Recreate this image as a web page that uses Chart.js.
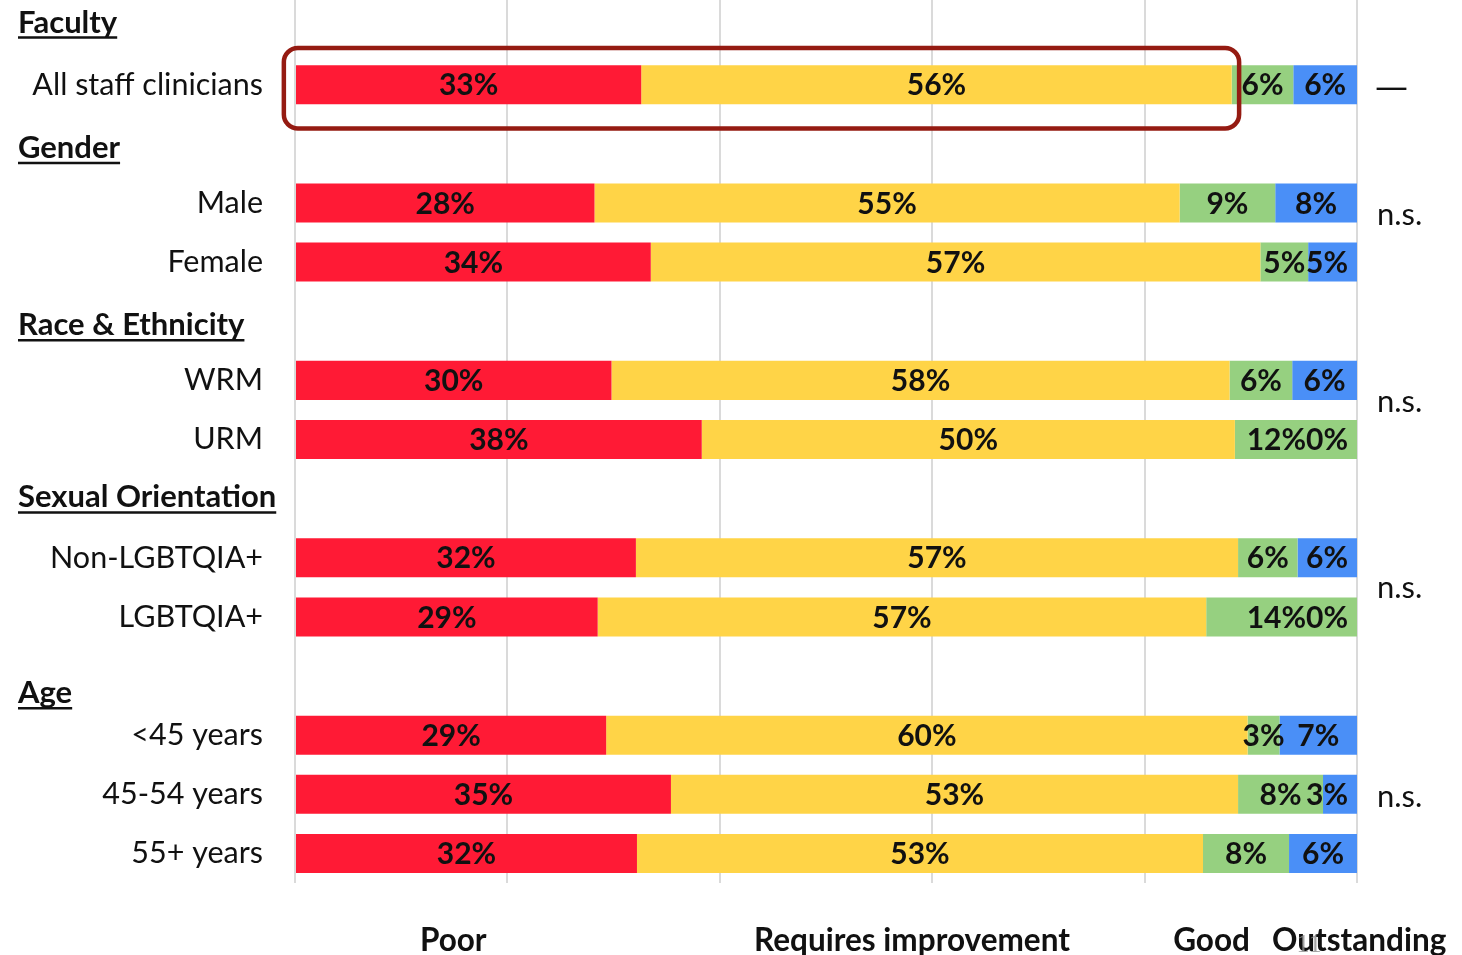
<!DOCTYPE html>
<html><head><meta charset="utf-8">
<script src="https://cdn.jsdelivr.net/npm/chart.js@4"></script>
<style>
html,body{margin:0;padding:0;background:#fff;overflow:hidden;width:1462px;height:955px;}
#wrap{position:absolute;left:0;top:-5px;width:1462px;height:960px;}
</style></head><body>
<div id="wrap"><canvas id="c"></canvas></div>
<script>
// ---- data ----
const categories = ['', 'All staff clinicians', '', 'Male', 'Female', '', 'WRM', 'URM', '', 'Non-LGBTQIA+', 'LGBTQIA+', '', '<45 years', '45-54 years', '55+ years'];
const groupHeaders = ['Faculty', 'Gender', 'Race & Ethnicity', 'Sexual Orientation', 'Age'];
const headerSlots = [0, 2, 5, 8, 11];
const seriesNames = ['Poor', 'Requires improvement', 'Good', 'Outstanding'];
const poor =                [null, 32.6, null, 28.2, 33.5, null, 29.8, 38.3, null, 32.1, 28.5, null, 29.3, 35.4, 32.2];
const requiresImprovement = [null, 55.6, null, 55.1, 57.4, null, 58.2, 50.2, null, 56.7, 57.3, null, 60.4, 53.4, 53.3];
const good =                [null, 5.8,  null, 9.0,  4.5,  null, 5.9,  11.5, null, 5.6,  14.2, null, 3.0,  8.0,  8.1];
const outstanding =         [null, 6.0,  null, 7.7,  4.6,  null, 6.1,  0,    null, 5.6,  0,    null, 7.3,  3.2,  6.4];
const significance = ['—', 'n.s.', 'n.s.', 'n.s.', 'n.s.'];
const slideNumber = '11';

// ---- styling / layout (not data) ----
const colors = ['#FF1A35', '#FFD447', '#96D080', '#4A8FF7'];
const FONT = 'Lato';
const headerNudge = [-0.05, 0.07, 0.07, -0.02, 0.29];
const sigSlots = [1.08, 3.21, 6.37, 9.51, 13.05];
const legendX = [14.9, 58.1, 86.3, 100.2];
const highlight = {row: 1, xFrom: -1.05, xTo: 88.9, yFrom: -0.62, yTo: 0.74};

const seriesData = [poor, requiresImprovement, good, outstanding];

const overlayPlugin = {
  id: 'overlay',
  afterDatasetsDraw(chart) {
    const ctx = chart.ctx;
    const ca = chart.chartArea;
    ctx.save();
    // segment labels
    ctx.font = 'bold 30px ' + FONT;
    ctx.fillStyle = '#111';
    ctx.textBaseline = 'middle';
    ctx.textAlign = 'left';
    for (let r = 0; r < categories.length; r++) {
      if (poor[r] === null) continue;
      const segs = chart.data.datasets.map((ds, i) => {
        const el = chart.getDatasetMeta(i).data[r];
        const x0 = Math.min(el.base, el.x), x1 = Math.max(el.base, el.x);
        const txt = Math.round(ds.data[r]) + '%';
        const w = ctx.measureText(txt).width;
        return {txt, w, cx: (x0 + x1) / 2, y: el.y};
      });
      let maxRight = ca.right - 9;
      for (let i = segs.length - 1; i >= 0; i--) {
        const s = segs[i];
        let left = s.cx - s.w / 2;
        if (left + s.w > maxRight) left = maxRight - s.w;
        s.left = left;
        maxRight = left;
      }
      segs.forEach(s => ctx.fillText(s.txt, s.left, s.y + 1));
    }
    ctx.restore();
  },
  afterDraw(chart) {
    const ctx = chart.ctx;
    const xs = chart.scales.x, ys = chart.scales.y;
    const ca = chart.chartArea;
    ctx.save();
    // group headers (bold, underlined)
    ctx.font = 'bold 31px ' + FONT;
    ctx.fillStyle = '#111';
    ctx.strokeStyle = '#111';
    ctx.textBaseline = 'middle';
    ctx.textAlign = 'left';
    groupHeaders.forEach((h, i) => {
      const y = ys.getPixelForValue(headerSlots[i] + headerNudge[i]);
      const x = 18;
      ctx.fillText(h, x, y);
      const w = ctx.measureText(h).width;
      ctx.lineWidth = 2.5;
      ctx.beginPath();
      ctx.moveTo(x, y + 15);
      ctx.lineTo(x + w, y + 15);
      ctx.stroke();
    });
    // significance notes
    significance.forEach((t, i) => {
      const y = ys.getPixelForValue(sigSlots[i]);
      if (t === '—') {
        ctx.font = '33px "DejaVu Sans"';
        ctx.fillText(t, ca.right + 18, y);
      } else {
        ctx.font = '31px ' + FONT;
        ctx.fillText(t, ca.right + 20, y);
      }
    });
    // highlight box
    const hx0 = xs.getPixelForValue(highlight.xFrom), hx1 = xs.getPixelForValue(highlight.xTo);
    const hy0 = ys.getPixelForValue(highlight.row + highlight.yFrom), hy1 = ys.getPixelForValue(highlight.row + highlight.yTo);
    ctx.strokeStyle = '#951B12';
    ctx.lineWidth = 4.5;
    const rad = 14;
    ctx.beginPath();
    ctx.moveTo(hx0 + rad, hy0);
    ctx.lineTo(hx1 - rad, hy0);
    ctx.arcTo(hx1, hy0, hx1, hy0 + rad, rad);
    ctx.lineTo(hx1, hy1 - rad);
    ctx.arcTo(hx1, hy1, hx1 - rad, hy1, rad);
    ctx.lineTo(hx0 + rad, hy1);
    ctx.arcTo(hx0, hy1, hx0, hy1 - rad, rad);
    ctx.lineTo(hx0, hy0 + rad);
    ctx.arcTo(hx0, hy0, hx0 + rad, hy0, rad);
    ctx.closePath();
    ctx.stroke();
    // category legend (text only)
    ctx.font = 'bold 31.5px ' + FONT;
    ctx.fillStyle = '#111';
    ctx.textAlign = 'center';
    const ly = ca.bottom + 58;
    chart.data.datasets.forEach((ds, i) => {
      ctx.fillText(ds.label, xs.getPixelForValue(legendX[i]), ly);
    });
    // slide number artifact
    ctx.font = '26px "Liberation Serif"';
    ctx.fillStyle = 'rgba(140,140,140,0.8)';
    ctx.fillText(slideNumber, ca.right - 48, ly + 4);
    ctx.restore();
  }
};

new Chart(document.getElementById('c'), {
  type: 'bar',
  data: {
    labels: categories,
    datasets: seriesNames.map((n, i) => ({
      label: n,
      data: seriesData[i],
      backgroundColor: colors[i],
      borderWidth: 0,
      barPercentage: 0.66,
      categoryPercentage: 1
    }))
  },
  options: {
    indexAxis: 'y',
    responsive: true,
    maintainAspectRatio: false,
    animation: false,
    layout: {padding: {top: 1, right: 105, bottom: 72, left: 0}},
    plugins: {legend: {display: false}, tooltip: {enabled: false}},
    scales: {
      x: {
        stacked: true, min: 0, max: 100,
        ticks: {display: false, stepSize: 20},
        grid: {color: '#dadada', lineWidth: 2, drawTicks: false},
        border: {display: false},
        afterFit(s) { s.height = 0; s.paddingLeft = 0; s.paddingRight = 0; }
      },
      y: {
        stacked: true,
        grid: {display: false, drawTicks: false},
        border: {display: false},
        ticks: {color: '#111', font: {family: FONT, size: 30.5}, padding: 32, autoSkip: false},
        afterFit(s) { s.width = 295; s.paddingTop = 0; s.paddingBottom = 0; }
      }
    }
  },
  plugins: [overlayPlugin]
});
</script>
</body></html>
